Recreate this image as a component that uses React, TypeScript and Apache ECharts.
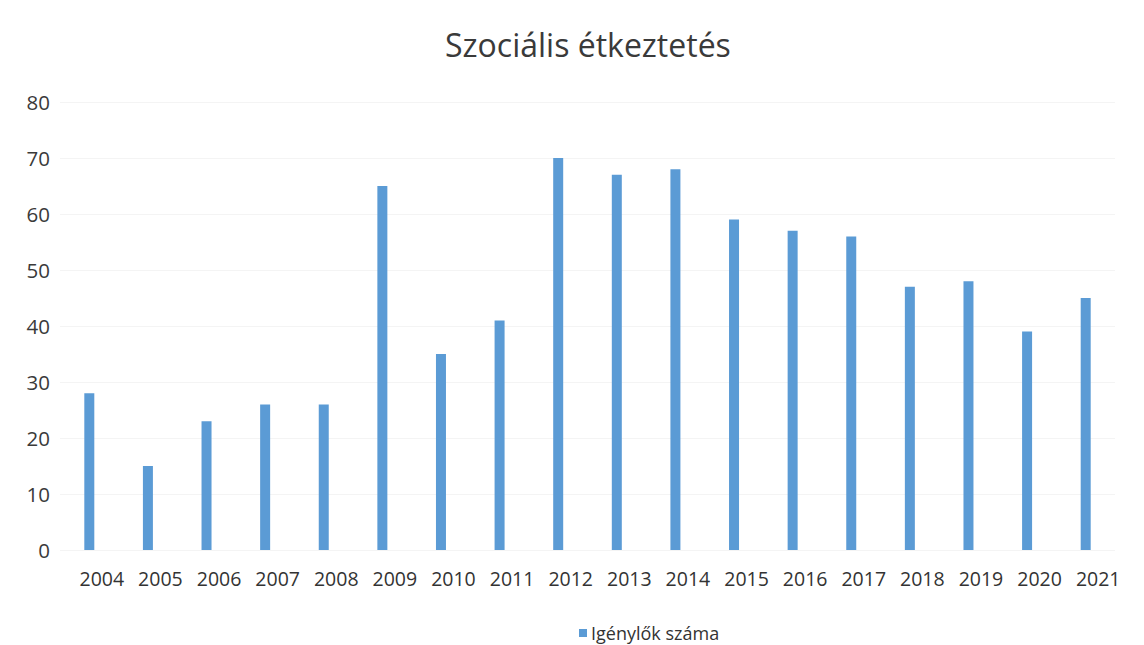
import React, { useEffect, useRef } from "react";
import * as echarts from "echarts";

const titleText = "Szociális étkeztetés";
const seriesName = "Igénylők száma";
const years = ["2004", "2005", "2006", "2007", "2008", "2009", "2010", "2011", "2012", "2013", "2014", "2015", "2016", "2017", "2018", "2019", "2020", "2021"];
const values = [28, 15, 23, 26, 26, 65, 35, 41, 70, 67, 68, 59, 57, 56, 47, 48, 39, 45];

export default function App() {
  const ref = useRef<HTMLDivElement>(null);
  useEffect(() => {
    if (!ref.current) return;
    const chart = echarts.init(ref.current, null, { renderer: "svg" });
    chart.setOption({
      animation: false,
      backgroundColor: "#ffffff",
      textStyle: { fontFamily: "Open Sans" },
      title: {
        text: titleText,
        left: 440,
        top: 23,
        textStyle: { fontSize: 32, fontWeight: "normal", color: "#3a3a3a", fontFamily: "Open Sans" },
      },
      legend: {
        top: 619,
        left: 574,
        itemWidth: 8,
        itemHeight: 8,
        icon: "rect",
        textStyle: { fontSize: 18, color: "#333333", fontFamily: "Open Sans", padding: [0, 0, 0, -1] },
        data: [seriesName],
      },
      grid: { left: 60, right: 29, top: 102, bottom: 95, containLabel: false },
      xAxis: {
        type: "category",
        data: years,
        axisLine: { show: false },
        axisTick: { show: false },
        axisLabel: { fontSize: 19.5, color: "#333333", margin: 18, interval: 0, padding: [0, 0, 0, 25] },
      },
      yAxis: {
        type: "value",
        min: 0,
        max: 80,
        interval: 10,
        axisLine: { show: false },
        axisTick: { show: false },
        axisLabel: { fontSize: 20.5, color: "#3a3a3a", margin: 10 },
        splitLine: { lineStyle: { color: "#f4f4f4", width: 1 } },
      },
      series: [
        {
          name: seriesName,
          type: "bar",
          data: values,
          barWidth: 10,
          itemStyle: { color: "#5b9bd5" },
        },
      ],
    });
    return () => chart.dispose();
  }, []);
  return <div ref={ref} style={{ position: "fixed", left: 0, top: 0, width: 1144, height: 645 }} />;
}
